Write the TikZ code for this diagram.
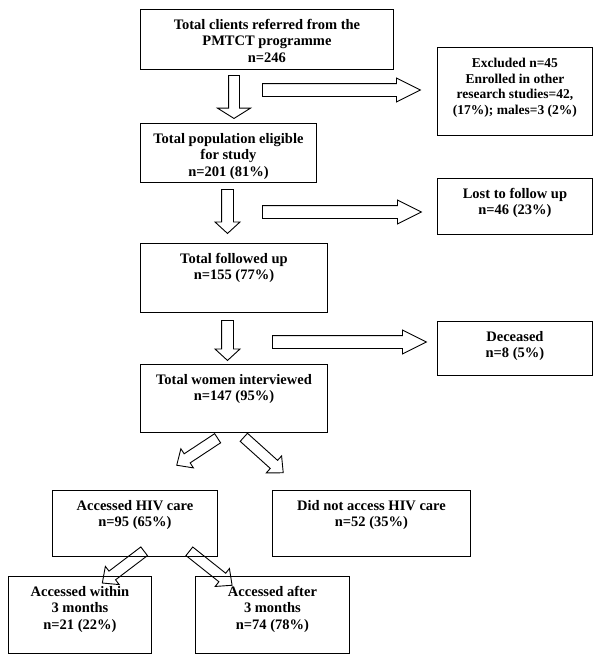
\documentclass[tikz,border=0pt]{standalone}
\usepackage{fontspec}
\setmainfont{Liberation Serif}
\usetikzlibrary{shapes.arrows}

% text of a box, set from its top edge
\newcommand{\boxtext}[3]{\parbox[t][#2][t]{#1}{\centering\rule{0pt}{20pt}#3}}

\begin{document}
\begin{tikzpicture}[x=1pt, y=-1pt, line width=0.9pt,
    box/.style={draw, rectangle, anchor=north west, inner sep=0pt, font=\fontsize{14.5}{16.5}\selectfont\bfseries},
    fatarrow/.style={single arrow, draw, anchor=tail, inner xsep=0pt, minimum width=0pt},
    darrow/.style={fatarrow, inner ysep=5.5pt, single arrow head extend=6.5pt, single arrow tip angle=95, rotate=-90},
    rarrow/.style={fatarrow, inner ysep=6pt, single arrow head extend=5.5pt, single arrow tip angle=53},
    diarrow/.style={fatarrow, inner ysep=5pt, single arrow head extend=6pt, single arrow tip angle=85}]
    \useasboundingbox (0, 0) rectangle (600, 664);
    \node[box] (total) at (140, 9) {\boxtext{253pt}{60pt}{Total clients referred from the\\PMTCT programme\\n=246}};
    \node[box, font=\fontsize{13.5}{15.7}\selectfont\bfseries] (excl) at (437, 47) {\boxtext{155pt}{88pt}{Excluded n=45\\Enrolled in other\\research studies=42,\\(17\%); males=3 (2\%)}};
    \node[box] (elig) at (140, 123) {\boxtext{176pt}{59pt}{Total population eligible\\for study\\n=201 (81\%)}};
    \node[box] (lost) at (437, 178) {\boxtext{155pt}{56pt}{Lost to follow up\\n=46 (23\%)}};
    \node[box] (fup) at (140, 243) {\boxtext{187pt}{69pt}{Total followed up\\n=155 (77\%)}};
    \node[box] (dead) at (437, 321) {\boxtext{155pt}{54pt}{Deceased\\n=8 (5\%)}};
    \node[box] (inter) at (140, 364) {\boxtext{187pt}{68pt}{Total women interviewed\\n=147 (95\%)}};
    \node[box] (care) at (52, 490) {\boxtext{165pt}{66pt}{Accessed HIV care\\n=95 (65\%)}};
    \node[box] (nocare) at (272, 490) {\boxtext{198pt}{66pt}{Did not access HIV care\\n=52 (35\%)}};
    \node[box] (early) at (8, 576) {\boxtext{143pt}{77pt}{Accessed within\\3 months\\n=21 (22\%)}};
    \node[box] (late) at (195, 576) {\boxtext{154pt}{77pt}{Accessed after\\3 months\\n=74 (78\%)}};
    % block arrows
    \node[darrow, inner ysep=5pt, single arrow head extend=11pt, single arrow tip angle=116, minimum height=43pt] (d1) at (234, 75) {};
    \node[darrow, minimum height=44pt] (d2) at (227.5, 189) {};
    \node[darrow, minimum height=40pt] (d3) at (227.5, 320) {};
    \node[rarrow, minimum height=158pt] (r1) at (262, 90) {};
    \node[rarrow, minimum height=159pt] (r2) at (262, 212) {};
    \node[rarrow, minimum height=154pt] (r3) at (272, 342) {};
    \node[diarrow, rotate=-146.6, minimum height=49pt] (g1) at (218, 438) {};
    \node[diarrow, rotate=-42, minimum height=53pt] (g2) at (243.5, 437) {};
    \node[diarrow, rotate=-142.8, minimum height=52.5pt] (g3) at (144.5, 551) {};
    \node[diarrow, rotate=-38.5, minimum height=54.6pt] (g4) at (189, 551) {};
\end{tikzpicture}
\end{document}
